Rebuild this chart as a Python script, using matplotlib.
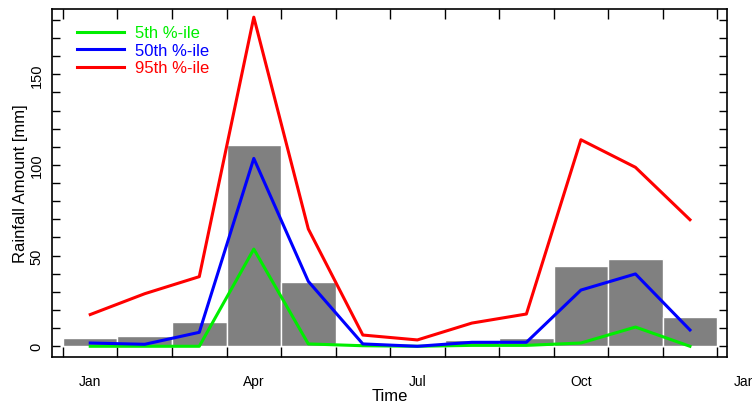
import numpy as np
import matplotlib
matplotlib.use("Agg")
import matplotlib.pyplot as plt
import matplotlib.transforms as mtransforms

plt.rcParams["font.family"] = ["Liberation Sans", "DejaVu Sans"]

months = ["Jan", "Feb", "Mar", "Apr", "May", "Jun", "Jul", "Aug", "Sep", "Oct", "Nov", "Dec"]
monthly_total = [4.4, 5.7, 13.4, 111.1, 35.6, 1.8, 0.3, 3.6, 4.5, 44.1, 48.0, 16.0]
p05 = [0.0, 0.0, 0.0, 53.6, 1.3, 0.3, 0.0, 0.5, 0.5, 1.8, 10.6, 0.0]
p50 = [1.8, 1.1, 7.7, 103.6, 35.8, 1.3, 0.0, 2.2, 2.2, 31.0, 39.9, 9.0]
p95 = [17.5, 29.0, 38.4, 181.5, 64.7, 6.2, 3.5, 12.8, 17.8, 113.9, 98.7, 69.8]
tick_labels = ["Jan", "Apr", "Jul", "Oct", "Jan"]
tick_label_pos = [0.5, 3.5, 6.5, 9.5, 12.5]

x_start = np.arange(len(months))
x_mid = x_start + 0.5

fig = plt.figure(figsize=(7.52, 4.02), dpi=100)
ax = fig.add_axes([0.0691, 0.1095, 0.8977, 0.8656])

ax.bar(x_start, monthly_total, width=1.0, align="edge", color="#808080",
       edgecolor="white", linewidth=1.0, zorder=1)
ax.plot(x_mid, p05, color="#00ee00", lw=2.2, label="5th %-ile", zorder=3)
ax.plot(x_mid, p50, color="#0000ff", lw=2.2, label="50th %-ile", zorder=3)
ax.plot(x_mid, p95, color="#ff0000", lw=2.2, label="95th %-ile", zorder=3)

# month boundary ticks
ax.set_xticks(np.arange(13))
ax.set_xticklabels([])
ax.tick_params(axis="x", direction="in", length=7.5, width=1, top=True, bottom=True)

# quarter labels at mid-month (the last one sits past the right edge)
trans = mtransforms.blended_transform_factory(ax.transData, ax.transAxes)
for xp, lab in zip(tick_label_pos, tick_labels):
    ax.text(xp, -0.068, lab, transform=trans, ha="center", va="center",
            fontsize=10, clip_on=False)

ax.set_yticks(np.arange(0, 181, 10))
ax.set_yticklabels([str(v) if v % 50 == 0 else "" for v in range(0, 181, 10)],
                   rotation=90, va="center", fontsize=10.5)
ax.tick_params(axis="y", direction="in", length=5.5, width=1, left=True,
               right=True, pad=6)

ax.set_xlim(-0.202, 12.18)
ax.set_ylim(-5.9, 186)

for s in ax.spines.values():
    s.set_linewidth(1.2)

ax.set_xlabel("Time", fontsize=12)
ax.xaxis.set_label_coords(0.5, -0.09)
ax.set_ylabel("Rainfall Amount [mm]", fontsize=12)
ax.yaxis.set_label_coords(-0.035, 0.5)

leg = ax.legend(loc="upper left", bbox_to_anchor=(0.027, 0.972), frameon=False,
                fontsize=12, handlelength=2.8, handletextpad=0.7,
                labelspacing=0.15, labelcolor="linecolor", borderaxespad=0)

fig.savefig("out.png", dpi=100)
